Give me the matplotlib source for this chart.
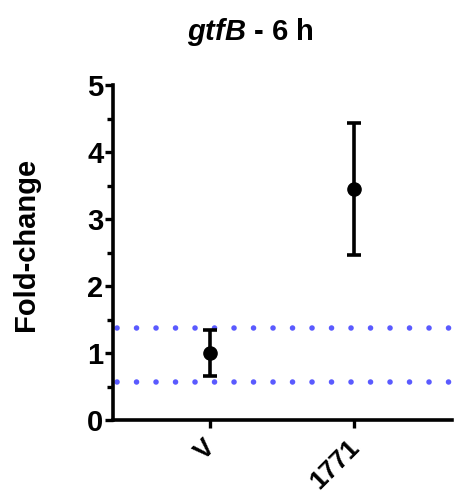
import numpy as np
import matplotlib
matplotlib.use('Agg')
import matplotlib.pyplot as plt
from matplotlib.transforms import ScaledTranslation

plt.rcParams['font.family'] = ['Liberation Sans', 'DejaVu Sans']
plt.rcParams['mathtext.fontset'] = 'custom'
plt.rcParams['mathtext.it'] = 'Liberation Sans:italic:bold'
plt.rcParams['mathtext.rm'] = 'Liberation Sans:bold'

# data
groups = ['V', '1771']
means = [1.0, 3.45]
lower = [0.65, 2.46]
upper = [1.35, 4.43]
band = [0.57, 1.38]   # dotted reference lines

x = np.arange(len(groups))
means = np.array(means)
yerr = [means - np.array(lower), np.array(upper) - means]

fig = plt.figure(figsize=(4.6, 4.95), dpi=100)
ax = fig.add_axes([0.2457, 0.1515, 0.9826 - 0.2457, 0.828 - 0.1515])

for b in band:
  ax.axhline(b, xmin=0.012, xmax=1.06, color='#5a5aff', lw=4.0,
             linestyle=(0, (0.01, 3.5)), dash_capstyle='round', clip_on=False, zorder=1)

ax.errorbar(x, means, yerr=yerr, fmt='o', color='black', ms=9.5, lw=2.6,
            capsize=4.8, capthick=2.6, zorder=3, clip_on=False)

ax.set_xlim(-0.674, 1.68)
ax.set_ylim(0, 5)
ax.set_yticks([0, 1, 2, 3, 4, 5])
ax.set_yticks(np.arange(0.5, 5, 1), minor=True)
ax.set_xticks(x)
ax.set_xticklabels(groups, rotation=45, ha='right', rotation_mode='anchor')

for s in ['top', 'right']:
  ax.spines[s].set_visible(False)
for s in ['left', 'bottom']:
  ax.spines[s].set_linewidth(2.6)

ax.tick_params(axis='y', which='major', length=6, width=2.4, labelsize=21, pad=1)
ax.tick_params(axis='y', which='minor', length=4, width=2.4)
ax.tick_params(axis='x', length=6, width=2.4, labelsize=19, pad=5)
for lab in ax.get_yticklabels() + ax.get_xticklabels():
  lab.set_fontweight('bold')

shift = ScaledTranslation(-7 / 100, 0, fig.dpi_scale_trans)
for lab in ax.get_xticklabels():
  lab.set_transform(lab.get_transform() + shift)

ax.set_ylabel('Fold-change', fontsize=21, fontweight='bold')
ax.yaxis.set_label_coords(-0.215, 0.525)
fig.text(0.543, 0.935, r'$\mathit{gtfB}$ - 6 h', ha='center', va='center',
         fontsize=21, fontweight='bold')

fig.savefig('out.png', dpi=100)
